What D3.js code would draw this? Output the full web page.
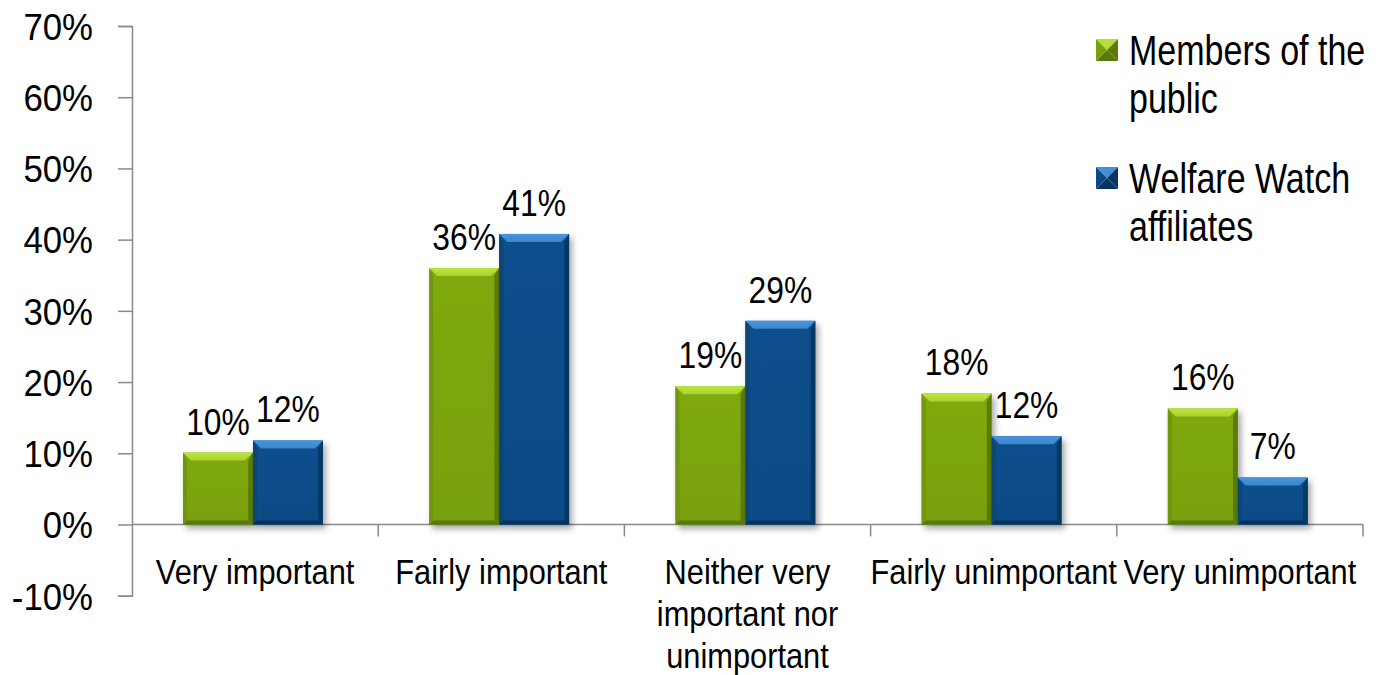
<!DOCTYPE html>
<html>
<head>
<meta charset="utf-8">
<script src="https://cdn.jsdelivr.net/npm/d3@7"></script>
<style>
  body { margin: 0; background: #fff; }
  svg { display: block; font-family: Arial, "Liberation Sans", sans-serif; }
</style>
</head>
<body>
<svg width="1379" height="675"></svg>
<script>
// chart data
var categories = ["Very important", "Fairly important", "Neither very important nor unimportant", "Fairly unimportant", "Very unimportant"]
var categoryLines = [["Very important"], ["Fairly important"], ["Neither very", "important nor", "unimportant"], ["Fairly unimportant"], ["Very unimportant"]]
var seriesNames = ["Members of the public", "Welfare Watch affiliates"]
var legendLines = [["Members of the", "public"], ["Welfare Watch", "affiliates"]]
var publicValues = [0.101, 0.360, 0.194, 0.184, 0.163]
var welfareValues = [0.118, 0.408, 0.286, 0.124, 0.066]
var yTicks = [-0.1, 0, 0.1, 0.2, 0.3, 0.4, 0.5, 0.6, 0.7]

var palette = [
  { main: "#79a00a", top: "#a9d033", left: "#6f960a", right: "#5b7c05", bottom: "#58790a" },
  { main: "#0a4b86", top: "#3f86c9", left: "#0a4479", right: "#063766", bottom: "#06335f" }
]

var svg = d3.select("svg")
var axisColor = "#8a8a8a"
var pct = function(v) { return d3.format(".0%")(v).replace("\u2212", "-") }

var y = d3.scaleLinear().domain([-0.1, 0.7]).range([595.7, 26])
var x0 = d3.scaleBand().domain(categories).range([132, 1363]).padding(0)
var x1 = d3.scaleBand().domain(seriesNames).range([0, x0.bandwidth()])
  .paddingInner(0).paddingOuter(0.76).align(0.48)

// scale text horizontally around its anchor
function squeeze(sel, sx) {
  sel.each(function() {
    var t = d3.select(this)
    var tx = +t.attr("x") || 0, ty = +t.attr("y") || 0
    t.attr("x", 0).attr("y", 0)
      .attr("transform", "translate(" + tx + "," + ty + ") scale(" + sx + ",1)")
  })
}

var defs = svg.append("defs")
var shadow = defs.append("filter").attr("id", "shadow")
  .attr("x", "-20%").attr("y", "-20%").attr("width", "150%").attr("height", "150%")
shadow.append("feDropShadow").attr("dx", 3).attr("dy", 4).attr("stdDeviation", 3)
  .attr("flood-color", "#000").attr("flood-opacity", 0.35)

palette.forEach(function(p, i) {
  var g = defs.append("linearGradient").attr("id", "top" + i).attr("x1", 0).attr("y1", 0).attr("x2", 0).attr("y2", 1)
  g.append("stop").attr("offset", "0%").attr("stop-color", d3.color(p.top).brighter(0.3))
  g.append("stop").attr("offset", "100%").attr("stop-color", p.top)
  var m = defs.append("linearGradient").attr("id", "main" + i).attr("x1", 0).attr("y1", 0).attr("x2", 0).attr("y2", 1)
  m.append("stop").attr("offset", "0%").attr("stop-color", d3.color(p.main).brighter(0.15))
  m.append("stop").attr("offset", "100%").attr("stop-color", p.main)
})

// y axis
var yAxis = svg.append("g")
  .attr("transform", "translate(132,0)")
  .call(d3.axisLeft(y).tickValues(yTicks).tickFormat(pct).tickSize(14).tickPadding(25))
yAxis.select(".domain").attr("stroke", axisColor).attr("stroke-width", 1.5)
yAxis.selectAll(".tick line").attr("stroke", axisColor).attr("stroke-width", 1.5)
yAxis.selectAll(".tick text")
  .attr("font-size", 37).attr("fill", "#000").attr("dy", "0.36em")
  .attr("font-family", "Arial, 'Liberation Sans', sans-serif")
squeeze(yAxis.selectAll(".tick text"), 0.94)

// x axis line + category separators
var xAxis = svg.append("g").attr("transform", "translate(0," + y(0) + ")")
xAxis.append("line").attr("x1", 132).attr("x2", 1363).attr("stroke", axisColor).attr("stroke-width", 1.5)
xAxis.selectAll(".sep")
  .data(categories)
  .enter().append("line")
  .attr("x1", function(d) { return x0(d) + x0.bandwidth() })
  .attr("x2", function(d) { return x0(d) + x0.bandwidth() })
  .attr("y1", 0).attr("y2", 12)
  .attr("stroke", axisColor).attr("stroke-width", 1.5)

// bars
var bevel = 8
var seriesData = [publicValues, welfareValues]
var groups = svg.selectAll(".cat")
  .data(categories)
  .enter().append("g")
  .attr("transform", function(d) { return "translate(" + x0(d) + ",0)" })

seriesNames.forEach(function(name, si) {
  var p = palette[si]
  var bar = groups.append("g").attr("filter", "url(#shadow)")
  bar.each(function(cat, ci) {
    var v = seriesData[si][ci]
    var bx = x1(name), bw = x1.bandwidth()
    var by = y(v), bh = y(0) - y(v)
    var b = Math.min(bevel, bh / 2)
    var g = d3.select(this)
    g.append("rect").attr("x", bx).attr("y", by).attr("width", bw).attr("height", bh).attr("fill", "url(#main" + si + ")")
    g.append("polygon").attr("fill", "url(#top" + si + ")")
      .attr("points", [[bx, by], [bx + bw, by], [bx + bw - b, by + b], [bx + b, by + b]].join(" "))
    g.append("polygon").attr("fill", p.left)
      .attr("points", [[bx, by], [bx + b * 0.5, by + b], [bx + b * 0.5, by + bh - b * 0.5], [bx, by + bh]].join(" "))
    g.append("polygon").attr("fill", p.right)
      .attr("points", [[bx + bw, by], [bx + bw - b * 0.6, by + b], [bx + bw - b * 0.6, by + bh - b * 0.5], [bx + bw, by + bh]].join(" "))
    g.append("polygon").attr("fill", p.bottom)
      .attr("points", [[bx, by + bh], [bx + b * 0.5, by + bh - b * 0.5], [bx + bw - b * 0.6, by + bh - b * 0.5], [bx + bw, by + bh]].join(" "))
  })

  var labels = groups.append("text")
    .attr("x", function() { return x1(name) + x1.bandwidth() / 2 })
    .attr("y", function(cat, ci) { return y(seriesData[si][ci]) - 18 })
    .attr("text-anchor", "middle")
    .attr("font-size", 37)
    .text(function(cat, ci) { return pct(seriesData[si][ci]) })
  squeeze(labels, 0.86)
})

// category labels
groups.each(function(cat, ci) {
  var g = d3.select(this)
  categoryLines[ci].forEach(function(line, li) {
    var t = g.append("text")
      .attr("x", x0.bandwidth() / 2)
      .attr("y", 584 + li * 42)
      .attr("text-anchor", "middle")
      .attr("font-size", 35)
      .text(line)
    squeeze(t, 0.88)
  })
})

// legend
var legend = svg.append("g")
var legendTop = [65, 193]
seriesNames.forEach(function(name, si) {
  var p = palette[si]
  var ly = legendTop[si]
  var mx = 1096, my = ly - 26, ms = 22
  var c = [mx + ms / 2, my + ms / 2]
  var m = legend.append("g")
  m.append("polygon").attr("fill", d3.color(p.top).brighter(0.2)).attr("points", [[mx, my], [mx + ms, my], c].join(" "))
  m.append("polygon").attr("fill", p.right).attr("points", [[mx + ms, my], [mx + ms, my + ms], c].join(" "))
  m.append("polygon").attr("fill", p.bottom).attr("points", [[mx, my + ms], [mx + ms, my + ms], c].join(" "))
  m.append("polygon").attr("fill", p.main).attr("points", [[mx, my], [mx, my + ms], c].join(" "))
  legendLines[si].forEach(function(line, li) {
    var t = legend.append("text")
      .attr("x", 1129)
      .attr("y", ly + li * 48)
      .attr("font-size", 42)
      .text(line)
    squeeze(t, 0.81)
  })
})
</script>
</body>
</html>
